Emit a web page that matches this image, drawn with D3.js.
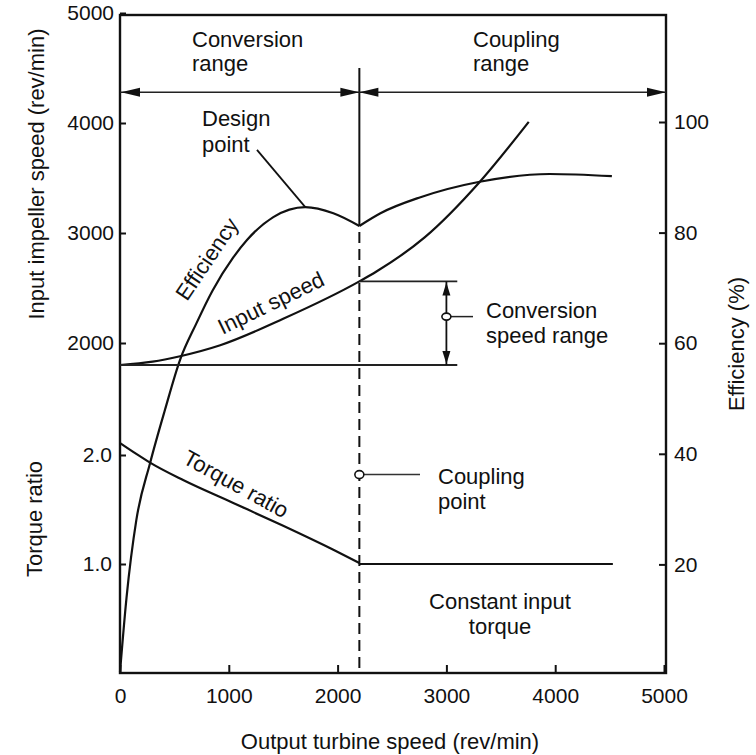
<!DOCTYPE html>
<html><head><meta charset="utf-8">
<script src="https://cdn.jsdelivr.net/npm/d3@7"></script>
<style>
body{margin:0;background:#fff}
svg{display:block}
text{font-family:"Liberation Sans",Arial,sans-serif;fill:#111}
</style>
</head><body>
<svg id="c" width="756" height="755"></svg>
<script>
// ---- data ----
const outTicks = [0, 1000, 2000, 3000, 4000, 5000];
const speedTicks = [2000, 3000, 4000, 5000];
const torqueTicks = [1.0, 2.0];
const effTicks = [20, 40, 60, 80, 100];

// Input impeller speed (rev/min) vs output turbine speed (rev/min)
const inputOut = [0, 300, 552, 921, 1500, 2200, 2357, 2800, 3306, 3757];
const inputRpm = [1800, 1830, 1880, 1980, 2220, 2560, 2650, 2960, 3464, 4010];

// Efficiency (%) - conversion range and coupling range
const effConvOut = [0, 60, 150, 276, 414, 552, 700, 850, 1041, 1169, 1409, 1703, 1961, 2200];
const effConvPct = [0.5, 14, 28, 38.3, 48, 57, 63.5, 69.5, 75.5, 78.7, 82.8, 84.6, 83.5, 81.2];
const effCoupOut = [2200, 2394, 2762, 3306, 3950, 4521];
const effCoupPct = [81.2, 83.5, 86.4, 89.2, 90.6, 90.2];

// Torque ratio
const torqueConvOut = [0, 150, 276, 580, 1041, 1500, 1961, 2200];
const torqueConvRatio = [2.11, 2.01, 1.93, 1.77, 1.56, 1.35, 1.13, 1.01];
const torqueCoupOut = [2200, 4530];
const torqueCoupRatio = [1.0, 1.0];

// annotation anchors (data units)
const couplingOut = 2200;
const rangeRowRpm = 4280;
const dividerTopRpm = 4500;
const convSpeedHigh = 2560, convSpeedLow = 1800, convSpeedOut = 3000, convSpeedLineEnd = 3100;
const convSpeedMarkRpm = 2240;
const couplingPointRatio = 1.82;
const designPointOut = 1703, designPointEff = 84.6, designLeaderOut = 1259, designLeaderRpm = 3755;

// ---- drawing ----
const svg = d3.select("#c");
const x = d3.scaleLinear([0, 5000], [120, 664]);
const ySpeed = d3.scaleLinear([0, 5000], [563, 13]);
const yTorque = d3.scaleLinear([0, 2], [673, 455]);
const yEff = d3.scaleLinear([0, 100], [675, 122]);

const FS = 21;
const line = (xs, ys, ys_scale) => d3.line().curve(d3.curveMonotoneX)(xs.map((v, i) => [x(v), ys_scale(ys[i])]));

// frame
svg.append("rect").attr("x", 120).attr("y", 15).attr("width", 546).attr("height", 658)
  .attr("fill", "none").attr("stroke", "#111").attr("stroke-width", 2.4);

// axes
function styleAxis(g) {
  g.select(".domain").remove();
  g.selectAll("line").attr("stroke", "#111").attr("stroke-width", 2);
  g.selectAll("text").attr("font-size", FS).attr("fill", "#111").attr("font-family", '"Liberation Sans",Arial,sans-serif');
}
svg.append("g").attr("transform", "translate(120,0)")
  .call(d3.axisLeft(ySpeed).tickValues(speedTicks).tickSize(-6).tickPadding(6).tickFormat(d3.format("d")))
  .call(styleAxis);
svg.append("g").attr("transform", "translate(120,0)")
  .call(d3.axisLeft(yTorque).tickValues(torqueTicks).tickSize(-6).tickPadding(8).tickFormat(d3.format(".1f")))
  .call(styleAxis);
svg.append("g").attr("transform", "translate(666,0)")
  .call(d3.axisRight(yEff).tickValues(effTicks).tickSize(-7).tickPadding(8).tickFormat(d3.format("d")))
  .call(styleAxis);
svg.append("g").attr("transform", "translate(0,673)")
  .call(d3.axisBottom(x).tickValues(outTicks).tickSize(-8).tickPadding(15).tickFormat(d3.format("d")))
  .call(styleAxis);

// axis titles
const title = (t, tx, ty, rot) => svg.append("text").attr("transform", `translate(${tx},${ty}) rotate(${rot})`)
  .attr("text-anchor", "middle").attr("dominant-baseline", "central").attr("font-size", 22).text(t);
title("Input impeller speed (rev/min)", 36, 174, -90);
title("Torque ratio", 34, 519, -90);
title("Efficiency (%)", 736, 344, -90);
svg.append("text").attr("x", 390).attr("y", 749).attr("text-anchor", "middle").attr("font-size", 22)
  .text("Output turbine speed (rev/min)");

// curves
const curveG = svg.append("g").attr("fill", "none").attr("stroke", "#111").attr("stroke-width", 2.2);
curveG.append("path").attr("d", line(inputOut, inputRpm, ySpeed));
curveG.append("path").attr("d", line(effConvOut, effConvPct, yEff));
curveG.append("path").attr("d", line(effCoupOut, effCoupPct, yEff));
curveG.append("path").attr("d", line(torqueConvOut, torqueConvRatio, yTorque));
curveG.append("path").attr("d", line(torqueCoupOut, torqueCoupRatio, yTorque));

// divider at coupling point
const xc = x(couplingOut);
svg.append("line").attr("x1", xc).attr("x2", xc).attr("y1", ySpeed(dividerTopRpm)).attr("y2", yEff(effConvPct[effConvPct.length - 1]))
  .attr("stroke", "#111").attr("stroke-width", 2);
svg.append("line").attr("x1", xc).attr("x2", xc).attr("y1", yEff(effConvPct[effConvPct.length - 1]) + 6).attr("y2", 673)
  .attr("stroke", "#111").attr("stroke-width", 2).attr("stroke-dasharray", "11,6");

// range row with arrows
const ry = ySpeed(rangeRowRpm);
svg.append("line").attr("x1", 120).attr("x2", 666).attr("y1", ry).attr("y2", ry).attr("stroke", "#222").attr("stroke-width", 1.6);
function arrowH(tip, dir, y) { // dir -1 pointing left, +1 pointing right
  const L = 19, W = 4.5;
  svg.append("path").attr("d", `M${tip},${y} L${tip - dir * L},${y - W} L${tip - dir * L},${y + W} Z`).attr("fill", "#111");
}
arrowH(121, -1, ry); arrowH(xc, 1, ry); arrowH(xc, -1, ry); arrowH(666, 1, ry);
function arrowV(tip, dir, xx) { // dir -1 up, +1 down
  const L = 13, W = 4;
  svg.append("path").attr("d", `M${xx},${tip} L${xx - W},${tip - dir * L} L${xx + W},${tip - dir * L} Z`).attr("fill", "#111");
}

// conversion speed range
const xr = x(convSpeedOut);
svg.append("line").attr("x1", xc).attr("x2", x(convSpeedLineEnd)).attr("y1", ySpeed(convSpeedHigh)).attr("y2", ySpeed(convSpeedHigh))
  .attr("stroke", "#222").attr("stroke-width", 1.8);
svg.append("line").attr("x1", 120).attr("x2", x(convSpeedLineEnd)).attr("y1", ySpeed(convSpeedLow)).attr("y2", ySpeed(convSpeedLow))
  .attr("stroke", "#222").attr("stroke-width", 1.8);
svg.append("line").attr("x1", xr).attr("x2", xr).attr("y1", ySpeed(convSpeedHigh)).attr("y2", ySpeed(convSpeedLow))
  .attr("stroke", "#111").attr("stroke-width", 1.8);
arrowV(ySpeed(convSpeedHigh) + 1, -1, xr);
arrowV(ySpeed(convSpeedLow) - 1, 1, xr);
const my = ySpeed(convSpeedMarkRpm);
svg.append("line").attr("x1", xr).attr("x2", 473).attr("y1", my).attr("y2", my).attr("stroke", "#222").attr("stroke-width", 1.5);
svg.append("ellipse").attr("cx", xr).attr("cy", my).attr("rx", 4.5).attr("ry", 3.5).attr("fill", "#fff").attr("stroke", "#111").attr("stroke-width", 1.6);

// coupling point
const cy = yTorque(couplingPointRatio);
svg.append("line").attr("x1", xc).attr("x2", 420).attr("y1", cy).attr("y2", cy).attr("stroke", "#333").attr("stroke-width", 1.5);
svg.append("ellipse").attr("cx", xc).attr("cy", cy).attr("rx", 4.5).attr("ry", 4).attr("fill", "#fff").attr("stroke", "#111").attr("stroke-width", 1.6);

// design point leader
svg.append("line").attr("x1", x(designLeaderOut)).attr("y1", ySpeed(designLeaderRpm))
  .attr("x2", x(designPointOut)).attr("y2", yEff(designPointEff)).attr("stroke", "#111").attr("stroke-width", 1.8);

// text labels
function label(lines, tx, ty, anchor, gap) {
  const t = svg.append("text").attr("font-size", 22).attr("text-anchor", anchor || "start");
  lines.forEach((s, i) => t.append("tspan").attr("x", tx).attr("y", ty + i * (gap || 24)).text(s));
}
label(["Conversion", "range"], 192, 47);
label(["Coupling", "range"], 473, 47);
label(["Design", "point"], 202, 126, "start", 26);
label(["Conversion", "speed range"], 486, 318, "start", 25);
label(["Coupling", "point"], 438, 484, "start", 25);
label(["Constant input", "torque"], 500, 609, "middle", 25);

const rot = (s, tx, ty, a) => svg.append("text").attr("transform", `translate(${tx},${ty}) rotate(${a})`)
  .attr("text-anchor", "middle").attr("dominant-baseline", "central").attr("font-size", 22).text(s);
rot("Efficiency", 207, 259, -56);
rot("Input speed", 271, 303, -26);
rot("Torque ratio", 236, 484, 29);
</script>
</body></html>
